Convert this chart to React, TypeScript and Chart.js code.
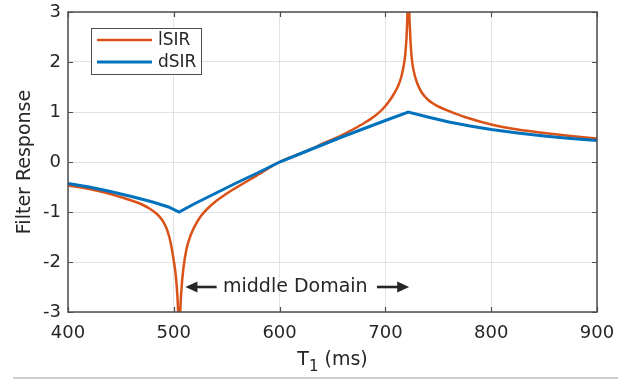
import React, { useEffect, useRef } from "react";
import { Chart, registerables } from "chart.js";

Chart.register(...registerables);

// ---- data ----
const xTicks = [400, 500, 600, 700, 800, 900];
const yTicks = [-3, -2, -1, 0, 1, 2, 3];
const seriesNames = ["lSIR", "dSIR"];
const yTitle = "Filter Response";
const xTitleMain = "T";
const xTitleSub = "1";
const xTitleUnit = " (ms)";
const annotationText = "middle Domain";
// annotation anchors in data units
const annoY = -2.5;
const annoLeftTip = 511;
const annoLeftTail = 540.5;
const annoTextStart = 546.5;
const annoRightTail = 692;
const annoRightTip = 722.5;

const lsirT = [
  400, 420, 440, 460, 470, 477, 484, 489, 493, 496, 498, 500, 501.5, 502.7, 503.8, 504.6, 505,
  505.5, 506.4, 507.5, 509, 512, 515, 518, 522, 526, 532, 540, 548, 556, 564, 572, 580,
  590, 600, 610, 620, 630, 640, 650, 660, 670, 680, 690, 697, 703, 708, 712, 715, 717.5,
  719, 720.5, 721.2, 721.7, 722.2, 723.2, 724.8, 727, 730, 734, 740, 745, 752, 760, 775,
  800, 825, 850, 875, 900,
];
const lsirY = [
  -0.47, -0.54, -0.64, -0.77, -0.85, -0.93, -1.04, -1.16, -1.32, -1.52, -1.72, -1.98, -2.2, -2.47, -2.85, -3.5, -4.5,
  -3.5, -2.85, -2.47, -2.14, -1.74, -1.52, -1.36, -1.2, -1.07, -0.93, -0.78, -0.66, -0.55, -0.45, -0.35, -0.25,
  -0.12, 0.0, 0.09, 0.17, 0.26, 0.36, 0.45, 0.55, 0.66, 0.78, 0.92, 1.05, 1.2, 1.36, 1.52, 1.7, 1.95,
  2.2, 2.75, 3.4, 4.5, 3.4, 2.65, 2.1, 1.8, 1.58, 1.4, 1.25, 1.17, 1.09, 1.02, 0.9,
  0.75, 0.65, 0.58, 0.52, 0.47,
];
const dsirT = [
  400, 420, 440, 460, 480, 495, 505, 520, 540, 560, 580, 600, 620, 640, 660, 680, 700, 721.6,
  740, 760, 780, 800, 825, 850, 875, 900,
];
const dsirY = [
  -0.43, -0.5, -0.59, -0.69, -0.8, -0.9, -1.0, -0.83, -0.62, -0.41, -0.21, 0.0, 0.17, 0.34, 0.51, 0.67, 0.83, 1.0,
  0.9, 0.8, 0.72, 0.65, 0.58, 0.52, 0.47, 0.43,
];

const RED = "#D95319";
const BLUE = "#0072BD";
const TEXT = "#262626";
const AXIS = "#4d4d4d";
const FONT = '"DejaVu Sans", sans-serif';

function drawArrow(ctx: CanvasRenderingContext2D, tail: number, tip: number, y: number) {
  const dir = tip > tail ? 1 : -1;
  const head = 12;
  ctx.beginPath();
  ctx.moveTo(tail, y);
  ctx.lineTo(tip - dir * (head - 2), y);
  ctx.lineWidth = 2.6;
  ctx.strokeStyle = TEXT;
  ctx.stroke();
  ctx.beginPath();
  ctx.moveTo(tip, y);
  ctx.lineTo(tip - dir * head, y - 5.5);
  ctx.lineTo(tip - dir * head, y + 5.5);
  ctx.closePath();
  ctx.fillStyle = TEXT;
  ctx.fill();
}

const decorPlugin = {
  id: "decor",
  afterDraw(chart: any) {
    const { ctx, chartArea: a, scales } = chart;
    const xs = scales.x;
    const ys = scales.y;
    ctx.save();

    // axes box
    ctx.strokeStyle = AXIS;
    ctx.lineWidth = 1.5;
    ctx.strokeRect(a.left, a.top, a.right - a.left, a.bottom - a.top);

    // inward tick marks
    ctx.lineWidth = 1.2;
    ctx.beginPath();
    xTicks.forEach((v) => {
      const px = Math.round(xs.getPixelForValue(v)) + 0.5;
      ctx.moveTo(px, a.bottom);
      ctx.lineTo(px, a.bottom - 5);
      ctx.moveTo(px, a.top);
      ctx.lineTo(px, a.top + 5);
    });
    yTicks.forEach((v) => {
      const py = Math.round(ys.getPixelForValue(v)) + 0.5;
      ctx.moveTo(a.left, py);
      ctx.lineTo(a.left + 5, py);
      ctx.moveTo(a.right, py);
      ctx.lineTo(a.right - 5, py);
    });
    ctx.stroke();

    // legend
    const lx = a.left + 23;
    const ly = a.top + 16;
    ctx.fillStyle = "#ffffff";
    ctx.fillRect(lx, ly, 110, 46);
    ctx.strokeStyle = AXIS;
    ctx.lineWidth = 1;
    ctx.strokeRect(lx + 0.5, ly + 0.5, 110, 46);
    const colors = [RED, BLUE];
    const widths = [2.5, 3];
    seriesNames.forEach((name, i) => {
      const yy = ly + 12 + i * 22;
      ctx.beginPath();
      ctx.moveTo(lx + 6, yy);
      ctx.lineTo(lx + 61, yy);
      ctx.strokeStyle = colors[i];
      ctx.lineWidth = widths[i];
      ctx.stroke();
      ctx.fillStyle = TEXT;
      ctx.font = `17px ${FONT}`;
      ctx.textAlign = "left";
      ctx.textBaseline = "middle";
      ctx.fillText(name, lx + 67, yy + 1);
    });

    // annotation
    const ay = ys.getPixelForValue(annoY);
    drawArrow(ctx, xs.getPixelForValue(annoLeftTail), xs.getPixelForValue(annoLeftTip), ay);
    drawArrow(ctx, xs.getPixelForValue(annoRightTail), xs.getPixelForValue(annoRightTip), ay);
    ctx.fillStyle = TEXT;
    ctx.font = `19px ${FONT}`;
    ctx.textAlign = "left";
    ctx.textBaseline = "middle";
    ctx.fillText(annotationText, xs.getPixelForValue(annoTextStart), ay);

    // x-axis title with subscript
    ctx.textBaseline = "alphabetic";
    ctx.font = `19px ${FONT}`;
    const wT = ctx.measureText(xTitleMain).width;
    const wU = ctx.measureText(xTitleUnit).width;
    ctx.font = `15px ${FONT}`;
    const wS = ctx.measureText(xTitleSub).width;
    const total = wT + wS + wU;
    let x0 = (a.left + a.right) / 2 - total / 2;
    const base = a.bottom + 53;
    ctx.font = `19px ${FONT}`;
    ctx.fillText(xTitleMain, x0, base);
    x0 += wT;
    ctx.font = `15px ${FONT}`;
    ctx.fillText(xTitleSub, x0, base + 6);
    x0 += wS;
    ctx.font = `19px ${FONT}`;
    ctx.fillText(xTitleUnit, x0, base);

    // light rule at the bottom of the figure
    ctx.strokeStyle = "#cfcfcf";
    ctx.lineWidth = 2;
    ctx.beginPath();
    ctx.moveTo(13, chart.height - 2);
    ctx.lineTo(618, chart.height - 2);
    ctx.stroke();

    ctx.restore();
  },
};

export default function App() {
  const ref = useRef<HTMLCanvasElement | null>(null);

  useEffect(() => {
    if (!ref.current) return;
    const chart = new Chart(ref.current, {
      type: "line",
      data: {
        datasets: [
          {
            label: seriesNames[0],
            data: lsirT.map((t, i) => ({ x: t, y: lsirY[i] })),
            borderColor: RED,
            borderWidth: 2.5,
            pointRadius: 0,
            cubicInterpolationMode: "monotone",
            order: 2,
          },
          {
            label: seriesNames[1],
            data: dsirT.map((t, i) => ({ x: t, y: dsirY[i] })),
            borderColor: BLUE,
            borderWidth: 3,
            pointRadius: 0,
            tension: 0,
            order: 1,
          },
        ],
      },
      options: {
        animation: false,
        responsive: false,
        events: [],
        layout: { padding: { left: 0, right: 42, top: 12, bottom: 0 } },
        plugins: {
          legend: { display: false },
          tooltip: { enabled: false },
        },
        scales: {
          x: {
            type: "linear",
            min: 400,
            max: 900,
            afterBuildTicks: (s: any) => {
              s.ticks = xTicks.map((v) => ({ value: v }));
            },
            afterFit: (s: any) => {
              s.height = 68;
              s.paddingLeft = 0;
              s.paddingRight = 0;
            },
            grid: { color: "#e2e2e2", lineWidth: 1, drawTicks: false },
            border: { display: false },
            ticks: {
              font: { family: FONT, size: 18 },
              color: TEXT,
              padding: 11,
              maxRotation: 0,
              autoSkip: false,
            },
          },
          y: {
            type: "linear",
            min: -3,
            max: 3,
            afterBuildTicks: (s: any) => {
              s.ticks = yTicks.map((v) => ({ value: v }));
            },
            afterFit: (s: any) => {
              s.width = 68;
              s.paddingTop = 0;
              s.paddingBottom = 0;
            },
            grid: { color: "#e2e2e2", lineWidth: 1, drawTicks: false },
            border: { display: false },
            ticks: {
              font: { family: FONT, size: 18 },
              color: TEXT,
              padding: 7,
              autoSkip: false,
            },
            title: {
              display: true,
              text: yTitle,
              color: TEXT,
              font: { family: FONT, size: 19 },
              padding: { top: 14, bottom: 0 },
            },
          },
        },
      },
      plugins: [decorPlugin],
    });
    return () => chart.destroy();
  }, []);

  return (
    <div style={{ position: "absolute", left: 0, top: 0, width: 639, height: 380, background: "#fff" }}>
      <canvas ref={ref} width={639} height={380} />
    </div>
  );
}
